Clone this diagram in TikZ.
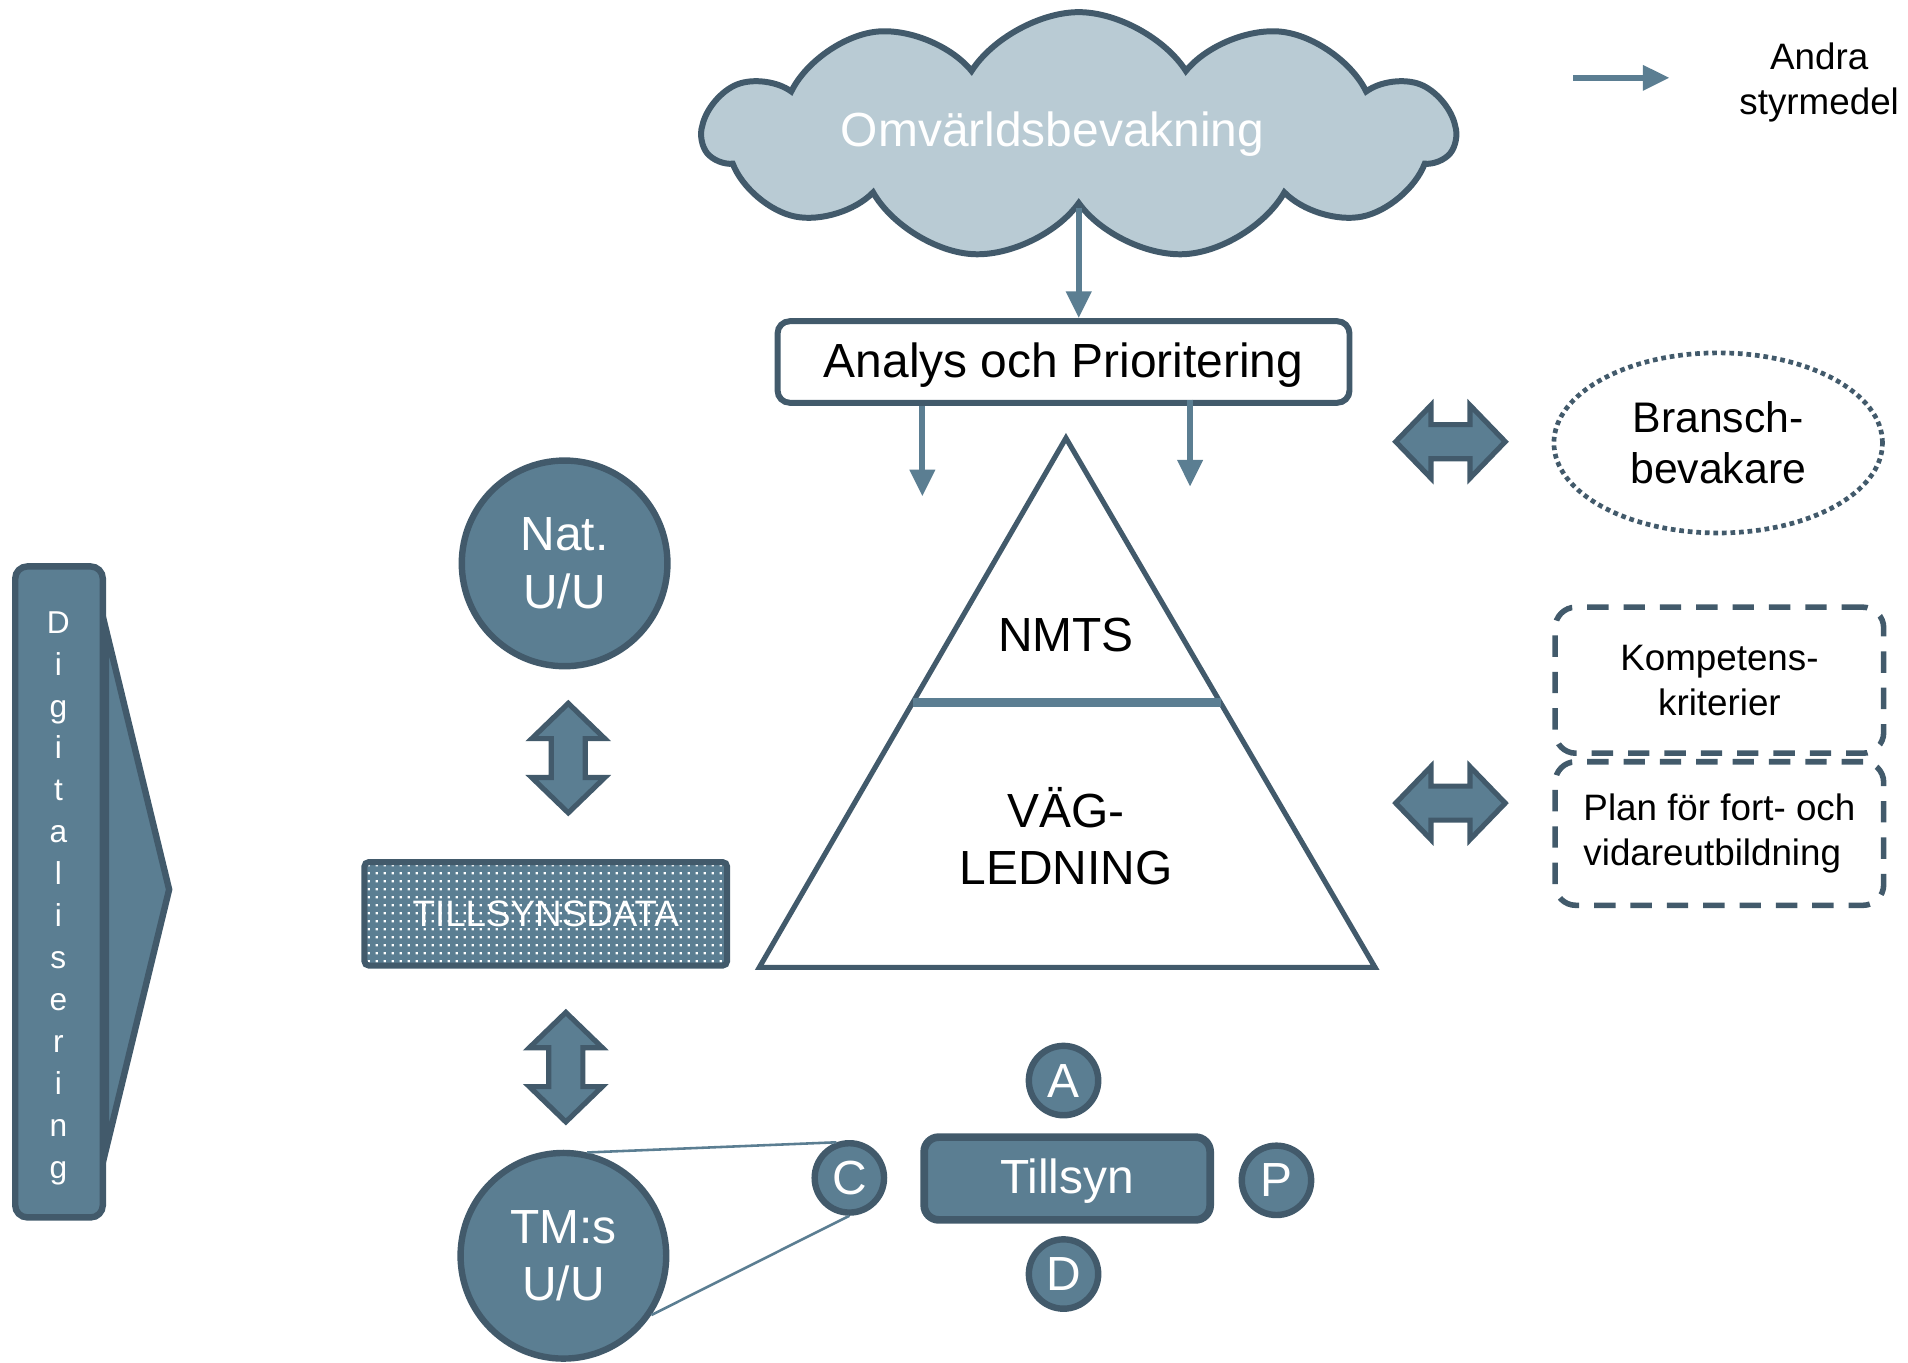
\documentclass[tikz,border=0pt]{standalone}
\usepackage{fontspec}
\setmainfont{Liberation Sans}
\usetikzlibrary{calc}
\usetikzlibrary{arrows.meta}
\usetikzlibrary{shapes.symbols}
\usetikzlibrary{shapes.geometric}
\usetikzlibrary{patterns.meta}

\definecolor{dark}{RGB}{66,90,107}
\definecolor{mid}{RGB}{91,126,146}
\definecolor{cloudfill}{RGB}{185,203,212}

\tikzdeclarepattern{
  name=finedots, type=uncolored,
  bottom left={(0pt,0pt)}, top right={(1.9pt,1.9pt)},
  tile size={(1.9pt,1.9pt)},
  code={\fill (0.7pt,0.7pt) rectangle +(0.55pt,0.55pt);}
}

\begin{document}
\begin{tikzpicture}[
  bigtxt/.style={font=\fontsize{11.2}{13.4}\selectfont},
  midtxt/.style={font=\fontsize{10}{12}\selectfont},
  smalltxt/.style={font=\fontsize{8.6}{10.5}\selectfont},
  roundnode/.style={circle, draw=dark, fill=mid, line width=1.5pt, text=white, inner sep=0pt, bigtxt},
  flow/.style={mid, line width=1.4pt, -{Triangle[length=2.2mm,width=2mm]}},
  blockarrow/.style={draw=dark, fill=mid, line width=1.2pt, line join=miter},
  dashbox/.style={draw=dark, line width=1.3pt, dash pattern=on 5pt off 3.5pt, rounded corners=0.17cm, minimum width=2.70cm, smalltxt}
]
\useasboundingbox (0,0) rectangle (15.68,11.2);

% top: cloud and analysis box
\node[cloud, cloud puffs=11, cloud puff arc=115, cloud ignores aspect, draw=dark, fill=cloudfill, line width=1.4pt, minimum width=6.17cm, minimum height=2.03cm] (cloud) at (8.865,10.085) {};
\node[bigtxt, text=white] (omv) at (8.65,10.1) {Omvärldsbevakning};
\node[draw=dark, fill=white, rounded corners=0.1cm, line width=1.4pt, minimum width=4.70cm, minimum height=0.67cm, text height=0.93em, text depth=0.21em, bigtxt] (analys) at (8.74,8.225) {Analys och Prioritering};

\draw[flow] (cloud.south) -- (cloud.south |- analys.north);

\coordinate (inL) at (7.58,7.12);
\coordinate (inR) at (9.78,7.20);
\draw[flow] (analys.south -| inL) -- (inL);
\draw[flow] ([yshift=0.05cm]analys.south -| inR) -- (inR);

% pyramid
\coordinate (top) at (8.76,7.60);
\coordinate (bl) at (6.24,3.25);
\coordinate (br) at (11.30,3.25);
\draw[dark, line width=1.2pt, line join=miter] (top) -- (bl) -- (br) -- cycle;
\draw[mid, line width=2pt] ($(top)!0.5!(bl)$) -- ($(top)!0.5!(br)$);
\node[bigtxt] (nmts) at (8.76,5.98) {NMTS};
\node[bigtxt, align=center] (vag) at (8.76,4.33) {VÄG-\\LEDNING};

% left column
\node[roundnode, minimum size=1.69cm, align=center] (nat) at (4.64,6.57) {Nat.\\U/U};
\node[draw=dark, line width=1.4pt, rounded corners=1pt, preaction={fill=mid}, pattern=finedots, pattern color=white, minimum width=2.98cm, minimum height=0.85cm, text=white, smalltxt] (data) at (4.485,3.69) {TILLSYNSDATA};
\node[roundnode, minimum size=1.69cm, align=center] (tms) at (4.63,0.88) {TM:s\\U/U};

\foreach \x/\y/\ang in {4.67/4.97/0, 4.65/2.43/0, 11.92/7.57/90, 11.92/4.60/90}
  \draw[blockarrow, shift={(\x,\y)}, rotate=\ang] (0,0.45) -- (0.30,0.16) -- (0.14,0.16) -- (0.14,-0.16) -- (0.30,-0.16) -- (0,-0.45) -- (-0.30,-0.16) -- (-0.14,-0.16) -- (-0.14,0.16) -- (-0.30,0.16) -- cycle;

% tillsyn
\node[draw=dark, fill=mid, line width=1.8pt, rounded corners=0.12cm, minimum width=2.35cm, minimum height=0.68cm, text height=0.93em, text depth=0.21em, text=white, bigtxt] (tillsyn) at (8.77,1.515) {Tillsyn};
\node[roundnode, minimum size=0.57cm] (a) at (8.74,2.32) {A};
\node[roundnode, minimum size=0.57cm] (d) at (8.74,0.73) {D};
\node[roundnode, minimum size=0.57cm] (p) at (10.49,1.50) {P};
\node[roundnode, minimum size=0.57cm] (c) at (6.98,1.52) {C};

\draw[mid, line width=0.6pt] (tms.77) -- (c.110);
\draw[mid, line width=0.6pt] (tms.-34) -- (c.-90);

% digitalisering
\node[draw=dark, fill=mid, line width=1.5pt, rounded corners=0.1cm, minimum width=0.72cm, minimum height=5.35cm] (digi) at (0.485,3.87) {};
\draw[draw=dark, fill=mid, line width=1.5pt, line join=miter] (0.87,6.03) -- (1.39,3.89) -- (0.87,1.75) -- cycle;
\node[text=white, align=center, font=\fontsize{7.4}{9.8}\selectfont] (digitext) at (0.48,3.82) {D\\i\\g\\i\\t\\a\\l\\i\\s\\e\\r\\i\\n\\g};

% right column
\node[ellipse, draw=dark, line width=1.1pt, dash pattern=on 1.1pt off 0.9pt, minimum width=2.70cm, minimum height=1.48cm, midtxt, align=center] (bransch) at (14.12,7.56) {Bransch-\\bevakare};
\node[dashbox, minimum height=1.20cm, align=center] (komp) at (14.13,5.61) {Kompetens-\\kriterier};
\node[dashbox, minimum height=1.18cm, align=left] (plan) at (14.13,4.35) {Plan för fort- och\\vidareutbildning};

% legend
\coordinate (legstart) at (12.93,10.56);
\coordinate (legend) at (13.72,10.56);
\draw[flow] (legstart) -- (legend);
\node[smalltxt, align=center] (andra) at (14.95,10.525) {Andra\\styrmedel};

\end{tikzpicture}
\end{document}
